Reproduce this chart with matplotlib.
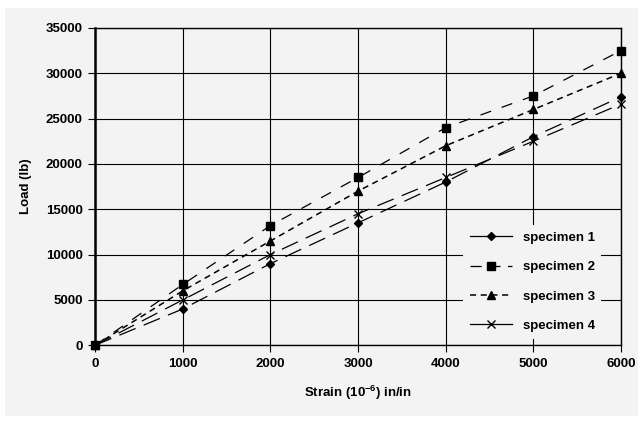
"""
Load vs strain for four specimens
"""

import matplotlib
matplotlib.use("Agg")
import matplotlib.pyplot as plt
from matplotlib.lines import Line2D
from matplotlib.patches import Rectangle

strain = [0, 1000, 2000, 3000, 4000, 5000, 6000]
specimen_1 = [0, 4000, 9000, 13500, 18000, 23000, 27400]
specimen_2 = [0, 6700, 13200, 18500, 24000, 27500, 32500]
specimen_3 = [0, 6000, 11500, 17000, 22000, 26000, 30000]
specimen_4 = [0, 5000, 10000, 14500, 18500, 22500, 26600]
labels = ["specimen 1", "specimen 2", "specimen 3", "specimen 4"]

plt.rcParams["font.family"] = ["Liberation Sans Narrow", "Liberation Sans", "DejaVu Sans"]
plt.rcParams["font.weight"] = "bold"

BG = "#f3f3f3"

fig = plt.figure(figsize=(6.43, 4.22), dpi=100, facecolor="white")
fig.patches.append(Rectangle((0.008, 0.015), 0.984, 0.967, transform=fig.transFigure,
                             facecolor=BG, edgecolor="none", zorder=-10))
ax = fig.add_axes([0.148, 0.182, 0.818, 0.752])
ax.set_facecolor(BG)

series = [
    (specimen_1, "D", 4.5, (0, (14, 7)), 0.9),
    (specimen_2, "s", 5.5, (0, (9, 9)), 0.9),
    (specimen_3, "^", 6, (0, (4, 3)), 1.1),
    (specimen_4, "x", 6, (0, (14, 7)), 0.9),
]
for vals, m, ms, ls, lw in series:
    ax.plot(strain, vals, color="black", linestyle=ls, linewidth=lw,
            marker=m, markersize=ms, markeredgewidth=1.0, clip_on=False, zorder=3)

ax.set_xlim(0, 6000)
ax.set_ylim(0, 35000)
ax.set_xticks(range(0, 6001, 1000))
ax.set_yticks(range(0, 35001, 5000))
ax.grid(True, color="black", linewidth=0.8)
ax.set_axisbelow(True)
for s in ax.spines.values():
    s.set_color("black")
    s.set_linewidth(1.0)
ax.spines["left"].set_linewidth(1.8)
ax.tick_params(axis="both", labelsize=9.5, length=5, width=0.8, direction="out", pad=4)

ax.set_xlabel("Strain (10$^{\\mathregular{-6}}$) in/in", fontsize=9.5, fontweight="bold", labelpad=10)
ax.set_ylabel("Load (lb)", fontsize=9.5, fontweight="bold", labelpad=10)

# legend shows solid lines for specimens 1 and 4
handles = [
    Line2D([], [], color="black", lw=0.9, marker="D", markersize=4.5),
    Line2D([], [], color="black", lw=0.9, ls=(0, (9, 6)), marker="s", markersize=5.5),
    Line2D([], [], color="black", lw=1.1, ls=(0, (4, 3)), marker="^", markersize=6),
    Line2D([], [], color="black", lw=0.9, marker="x", markersize=6),
]
leg = ax.legend(handles, labels, loc="lower right", bbox_to_anchor=(0.975, 0.0),
                fontsize=9.5, frameon=True, facecolor=BG, edgecolor="none",
                framealpha=1.0, handlelength=3.2, labelspacing=1.3, borderpad=0.5)

plt.savefig("out.png", dpi=100, facecolor="white")
plt.close()
